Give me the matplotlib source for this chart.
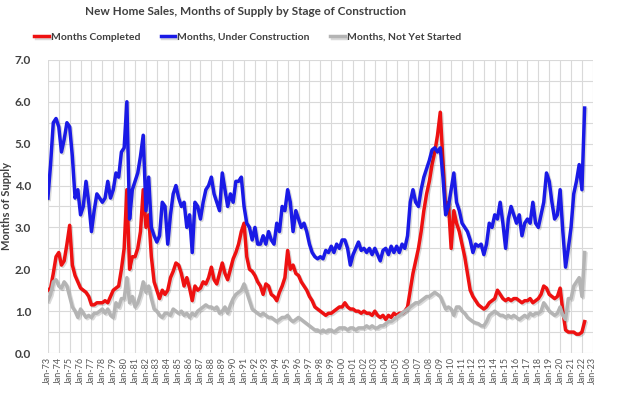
import numpy as np
import pandas as pd
import matplotlib
matplotlib.use("Agg")
import matplotlib.pyplot as plt
import matplotlib.dates as mdates
import matplotlib.patheffects as pe

# quarterly readings, Q1-1973 .. Q2-2022 (one row per year)
under_construction = [
    3.7, 4.5, 5.5, 5.6,
    5.4, 4.8, 5.1, 5.5,
    5.4, 4.7, 3.7, 3.9,
    3.3, 3.5, 4.1, 3.6,
    2.9, 3.4, 3.8, 3.7,
    3.6, 3.7, 4.1, 3.7,
    3.9, 4.3, 4.2, 4.8,
    4.9, 6.0, 3.2, 3.9,
    4.1, 4.3, 4.7, 5.2,
    3.4, 4.2, 3.0, 2.8,
    2.65, 2.8, 3.6, 3.5,
    2.6, 3.3, 3.8, 4.0,
    3.7, 3.5, 3.6, 3.0,
    3.3, 2.4, 3.6, 3.5,
    3.2, 3.6, 3.9, 4.0,
    4.2, 3.8, 3.6, 3.4,
    4.3, 3.9, 3.5, 3.8,
    3.6, 4.1, 4.1, 4.2,
    3.5, 3.1, 3.0, 2.7,
    3.0, 2.6, 2.6, 2.8,
    2.6, 2.9, 2.7, 2.6,
    3.1, 2.9, 3.5, 3.4,
    3.9, 3.6, 2.9, 3.4,
    3.2, 3.0, 3.1, 2.9,
    2.6, 2.4, 2.3, 2.25,
    2.3, 2.25, 2.45, 2.4,
    2.55, 2.4, 2.6, 2.5,
    2.7, 2.7, 2.5, 2.1,
    2.35, 2.5, 2.65, 2.45,
    2.5, 2.4, 2.5, 2.35,
    2.5, 2.35, 2.2, 2.45,
    2.5, 2.35, 2.55, 2.4,
    2.55, 2.4, 2.6, 2.5,
    2.8, 3.6, 3.9, 3.6,
    3.5, 3.9, 4.2, 4.4,
    4.6, 4.85, 4.9, 4.8,
    4.9, 4.2, 3.3, 3.5,
    3.9, 4.3, 3.6, 3.4,
    3.1, 3.0, 2.9, 2.7,
    2.4, 2.6, 2.55, 2.6,
    2.35, 2.6, 3.1, 3.0,
    3.3, 3.2, 3.6, 3.1,
    2.5, 3.2, 3.5, 3.3,
    3.1, 3.3, 2.8, 3.1,
    3.2, 3.1, 3.6, 3.1,
    3.0, 3.3, 3.6, 4.3,
    4.1, 3.6, 3.2, 3.3,
    3.9, 2.9, 2.05, 2.5,
    3.0, 3.8, 4.1, 4.5,
    3.9, 5.85,
]

completed = [
    1.5, 1.55, 1.9, 2.3,
    2.4, 2.1, 2.2, 2.6,
    3.05, 2.1, 1.85, 1.7,
    1.55, 1.5, 1.45, 1.35,
    1.15, 1.15, 1.2, 1.2,
    1.2, 1.25, 1.2, 1.35,
    1.5, 1.55, 1.6, 2.0,
    2.5, 3.9, 2.0, 2.3,
    2.3, 2.5, 2.9, 3.9,
    3.0, 3.3, 2.3, 1.7,
    1.5, 1.3, 1.5, 1.4,
    1.5, 1.8, 1.95, 2.15,
    2.1, 1.9, 1.6, 1.8,
    1.55, 1.25, 1.6, 1.5,
    1.55, 1.7, 1.65, 1.8,
    2.05, 1.75, 1.65, 1.9,
    2.15, 1.9, 1.75, 2.0,
    2.25, 2.4, 2.6, 2.9,
    3.1, 2.3, 2.0, 1.95,
    1.85, 1.7, 1.6, 1.4,
    1.65, 1.6, 1.4, 1.35,
    1.25, 1.45, 1.6, 1.8,
    2.45, 2.0, 2.1, 1.9,
    1.85, 1.7, 1.6, 1.5,
    1.35, 1.25, 1.1, 1.05,
    1.0, 0.95, 0.9, 0.95,
    0.95, 1.0, 1.05, 1.1,
    1.1, 1.2, 1.1, 1.05,
    1.05, 1.0, 1.0, 0.95,
    1.0, 0.95, 0.95, 0.9,
    1.0, 0.9, 0.85, 0.9,
    0.8, 0.9, 0.85, 0.95,
    0.9, 0.95, 0.95, 1.0,
    1.1, 1.5, 1.9, 2.2,
    2.5, 2.9, 3.4, 3.8,
    4.1, 4.5, 4.8, 5.2,
    5.75, 4.6, 3.4, 3.6,
    2.5, 3.4, 3.1, 2.9,
    2.6, 2.3, 1.9, 1.5,
    1.35, 1.25, 1.15, 1.1,
    1.05, 1.1, 1.2, 1.25,
    1.3, 1.5, 1.4, 1.3,
    1.25, 1.3, 1.25, 1.3,
    1.3, 1.25, 1.2, 1.25,
    1.25, 1.3, 1.2, 1.25,
    1.3, 1.4, 1.6, 1.55,
    1.4, 1.35, 1.3, 1.35,
    1.55, 1.0, 0.55, 0.5,
    0.5, 0.5, 0.45, 0.45,
    0.5, 0.75,
]

not_started = [
    1.25, 1.4, 1.7, 1.75,
    1.6, 1.55, 1.7, 1.6,
    1.35, 1.1, 1.0, 0.85,
    1.05, 0.95, 0.85, 0.9,
    0.85, 0.95, 0.95, 1.0,
    1.05, 0.95, 1.05, 0.9,
    0.85, 1.2, 1.1, 1.3,
    1.3, 1.8, 1.2, 1.35,
    1.1, 1.2, 1.4, 1.7,
    1.45, 1.6, 1.3, 1.05,
    1.0, 0.9, 0.85, 0.95,
    0.95, 0.9, 1.05, 1.0,
    0.95, 1.0, 0.9, 0.95,
    0.85, 0.95, 0.9, 1.0,
    1.05, 1.1, 1.15, 1.1,
    1.1, 1.05, 1.1, 0.95,
    1.0, 1.1, 0.95, 1.15,
    1.3, 1.4, 1.45, 1.5,
    1.65, 1.45, 1.25, 1.05,
    1.0, 0.95, 0.9, 0.95,
    0.9, 0.85, 0.85, 0.8,
    0.75, 0.8, 0.85, 0.85,
    0.9, 0.8, 0.75, 0.8,
    0.85, 0.8, 0.75, 0.7,
    0.65, 0.6, 0.55, 0.55,
    0.5, 0.55, 0.5, 0.55,
    0.55, 0.5, 0.55, 0.6,
    0.6, 0.6, 0.55, 0.6,
    0.6, 0.55, 0.6, 0.6,
    0.6, 0.65, 0.6, 0.65,
    0.6, 0.6, 0.65, 0.65,
    0.7, 0.75, 0.75, 0.8,
    0.85, 0.9, 0.95, 1.0,
    1.05, 1.1, 1.15, 1.2,
    1.2, 1.25, 1.3, 1.35,
    1.35, 1.4, 1.45, 1.4,
    1.35, 1.2, 1.05, 1.1,
    1.05, 0.9, 1.1, 1.1,
    1.0, 0.95, 0.85, 0.8,
    0.75, 0.72, 0.7, 0.65,
    0.65, 0.75, 0.9, 0.95,
    1.0, 0.95, 0.9, 0.9,
    0.85, 0.9, 0.85, 0.9,
    0.85, 0.8, 0.85, 0.9,
    0.85, 0.95, 0.9, 0.95,
    0.95, 1.0, 1.2, 1.1,
    1.0, 0.95, 0.9, 0.95,
    1.1, 0.9, 0.8, 1.3,
    1.3, 1.6, 1.7, 1.8,
    1.35, 2.4,
]

dates = pd.date_range("1973-01-01", periods=len(completed), freq="QS")

plt.rcParams["font.family"] = ["Lato", "DejaVu Sans"]
txt = "#404040"

fig = plt.figure(figsize=(6.3, 3.94), dpi=100)
ax = fig.add_axes([0.076, 0.104, 0.865, 0.744])

shadow = [pe.SimpleLineShadow(offset=(1, -1), alpha=0.15), pe.Normal()]
ax.plot(dates, completed, color="#ee1111", lw=2.5, label="Months Completed", path_effects=shadow)
ax.plot(dates, under_construction, color="#1a1ae6", lw=2.5, label="Months, Under Construction", path_effects=shadow)
ax.plot(dates, not_started, color="#b4b4b4", lw=2.5, label="Months, Not Yet Started", path_effects=shadow)

ax.set_xlim(pd.Timestamp("1973-01-01"), pd.Timestamp("2023-01-01"))
ax.set_ylim(0, 7)
ax.xaxis.set_major_locator(mdates.YearLocator(1, month=1, day=1))
ax.xaxis.set_major_formatter(mdates.DateFormatter("%b-%y"))
ax.set_yticks(np.arange(0, 7.01, 1.0))
ax.set_yticks(np.arange(0.5, 7, 1.0), minor=True)
ax.yaxis.set_major_formatter(matplotlib.ticker.FormatStrFormatter("%.1f"))

ax.grid(True, which="both", color="#d9d9d9", lw=0.8)
ax.set_axisbelow(True)
for s in ax.spines.values():
    s.set_visible(False)
ax.tick_params(axis="both", which="both", length=0)
ax.tick_params(axis="x", labelsize=6.5, labelcolor="#595959", rotation=90, pad=3)
ax.tick_params(axis="y", labelsize=8.5, labelcolor=txt, pad=12)
for lab in ax.get_yticklabels():
    lab.set_fontweight("bold")

ax.set_ylabel("Months of Supply", fontsize=8, fontweight="bold", color=txt, labelpad=2)

fig.suptitle("New Home Sales, Months of Supply by Stage of Construction",
             x=0.39, y=0.985, fontsize=8.5, fontweight="bold", color=txt)
ax.legend(loc="center", bbox_to_anchor=(0.393, 0.905), bbox_transform=fig.transFigure,
          ncol=3, frameon=False, handlelength=1.4, handletextpad=0.15,
          columnspacing=2.0, labelcolor=txt, prop={"weight": "bold", "size": 7.5})

fig.savefig("out.png", dpi=100)
